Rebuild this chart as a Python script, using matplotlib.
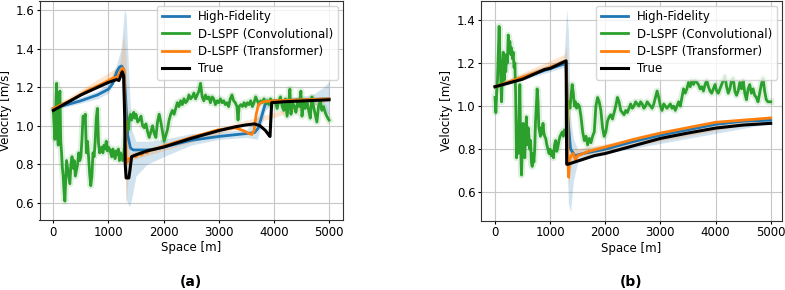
import numpy as np
import matplotlib
matplotlib.use("Agg")
import matplotlib.pyplot as plt

plt.rcParams['font.family'] = ['DejaVu Sans']

labels = ["High-Fidelity", "D-LSPF (Convolutional)", "D-LSPF (Transformer)", "True"]
colors = ["#1f77b4", "#2ca02c", "#ff7f0e", "black"]

# ---------------- panel (a) ----------------
true_a_x = [0, 500, 1000, 1100, 1150, 1190, 1250, 1275, 1295, 1305, 1320, 1370, 1390, 1420, 1500, 1700, 2000, 2500, 3000, 3300,
            3500, 3650, 3750, 3850, 3900, 3930, 3960, 4200, 4600, 5000]
true_a_y = [1.08, 1.16, 1.225, 1.235, 1.24, 1.235, 1.28, 1.26, 1.05, 0.80, 0.73, 0.73, 0.77, 0.84, 0.85, 0.87, 0.89, 0.935, 0.975,
            0.995, 1.005, 1.01, 1.00, 0.975, 0.955, 0.945, 1.12, 1.125, 1.13, 1.135]

hf_a_x = [0, 500, 800, 1000, 1080, 1150, 1200, 1240, 1280, 1310, 1350, 1400, 1450, 1550, 1700, 1850, 2000, 2500, 3000, 3500,
          3650, 3720, 3780, 3840, 3900, 4000, 4500, 5000]
hf_a_y = [1.09, 1.13, 1.16, 1.19, 1.22, 1.28, 1.305, 1.31, 1.29, 1.15, 0.95, 0.885, 0.875, 0.875, 0.875, 0.88, 0.89, 0.925,
          0.945, 0.96, 0.965, 0.99, 1.05, 1.11, 1.125, 1.13, 1.135, 1.14]
hf_a_band_x = [0, 800, 1000, 1150, 1230, 1290, 1320, 1380, 1420, 1500, 1700, 2000, 2500, 3000, 3500, 3700, 3850, 4000, 4700,
               4900, 5000]
hf_a_band_lo = [1.08, 1.14, 1.17, 1.25, 1.28, 1.00, 0.62, 0.58, 0.62, 0.74, 0.80, 0.84, 0.90, 0.93, 0.94, 0.93, 1.08, 1.12,
                1.12, 1.08, 1.06]
hf_a_band_hi = [1.10, 1.18, 1.22, 1.32, 1.40, 1.60, 1.58, 1.20, 0.98, 0.92, 0.92, 0.93, 0.96, 0.97, 0.98, 1.05, 1.15, 1.14,
                1.16, 1.20, 1.23]

tr_a_x = [0, 300, 600, 900, 1000, 1100, 1150, 1200, 1250, 1280, 1300, 1320, 1340, 1370, 1400, 1450, 1500, 1550, 1600, 1650,
          1700, 1750, 1800, 2000, 2500, 3000, 3300, 3450, 3550, 3600, 3640, 3680, 3720, 3800, 4000, 4500, 5000]
tr_a_y = [1.09, 1.13, 1.18, 1.22, 1.235, 1.25, 1.25, 1.27, 1.30, 1.29, 1.10, 0.83, 0.81, 0.83, 0.83, 0.845, 0.84, 0.855,
          0.85, 0.865, 0.86, 0.875, 0.875, 0.895, 0.94, 0.98, 0.99, 0.975, 0.96, 0.955, 0.975, 1.06, 1.11, 1.125, 1.13, 1.135,
          1.14]
tr_a_band_x = [0, 1200, 1280, 1320, 1360, 1400, 5000]
tr_a_band_lo = [1.08, 1.26, 1.25, 0.58, 0.75, 0.82, 1.13]
tr_a_band_hi = [1.10, 1.31, 1.48, 1.35, 0.90, 0.86, 1.15]

cv_a_x = [0, 15, 30, 45, 60, 75, 90, 105, 120, 135, 150, 165, 180, 195, 210, 225, 240, 260, 280, 300, 320, 340, 360, 380,
          400, 420, 440, 460, 480, 500, 520, 540, 560, 580, 600, 620, 640, 660, 680, 700, 720, 740, 760, 780, 800, 820, 840,
          860, 880, 900, 920, 940, 960, 980, 1000, 1020, 1040, 1060, 1080, 1100, 1120, 1140, 1160, 1180, 1200, 1220, 1240,
          1260, 1280, 1300, 1320, 1340, 1360, 1380, 1400, 1420, 1440, 1460, 1480, 1500, 1530, 1560, 1590, 1620, 1650, 1680,
          1710, 1740, 1770, 1800, 1830, 1860, 1890, 1920, 1950, 1980, 2010, 2040, 2070, 2100, 2130, 2160, 2190, 2220, 2250,
          2280, 2310, 2340, 2370, 2400, 2430, 2460, 2490, 2520, 2550, 2580, 2610, 2640, 2670, 2700, 2730, 2760, 2790, 2820,
          2850, 2880, 2910, 2940, 2970, 3000, 3030, 3060, 3090, 3120, 3150, 3180, 3210, 3240, 3270, 3300, 3330, 3350, 3370,
          3400, 3430, 3460, 3490, 3520, 3550, 3580, 3610, 3640, 3670, 3700, 3730, 3760, 3790, 3820, 3850, 3880, 3910, 3940,
          3970, 4000, 4030, 4060, 4090, 4120, 4150, 4180, 4210, 4240, 4270, 4290, 4310, 4340, 4370, 4400, 4430, 4460, 4490,
          4510, 4540, 4570, 4600, 4630, 4660, 4690, 4720, 4750, 4780, 4810, 4840, 4870, 4900, 4930, 4960, 5000]
cv_a_y = [1.08, 1.00, 0.93, 1.10, 1.22, 0.95, 0.90, 1.12, 1.18, 0.92, 0.86, 0.78, 0.74, 0.66, 0.61, 0.72, 0.82, 0.78, 0.74,
          0.70, 0.80, 0.84, 0.78, 0.82, 0.74, 0.77, 0.80, 0.86, 0.82, 0.84, 0.93, 1.05, 1.03, 1.06, 0.86, 0.92, 0.84, 0.75,
          0.69, 0.74, 0.86, 0.84, 0.92, 1.04, 1.09, 0.91, 0.86, 0.88, 0.89, 0.86, 0.90, 0.88, 0.92, 0.87, 0.89, 0.88, 0.86,
          0.84, 0.88, 0.86, 0.83, 0.87, 0.85, 0.88, 0.82, 0.86, 0.84, 0.82, 0.86, 0.93, 0.98, 1.02, 0.98, 1.04, 1.06, 1.03,
          1.05, 1.07, 1.04, 1.06, 1.02, 1.03, 1.05, 1.00, 0.99, 1.01, 0.97, 0.94, 0.97, 1.00, 0.96, 0.94, 1.02, 1.06, 1.02,
          0.97, 0.92, 0.95, 0.98, 1.03, 1.06, 1.08, 1.06, 1.09, 1.12, 1.10, 1.13, 1.11, 1.14, 1.12, 1.13, 1.16, 1.14, 1.15,
          1.17, 1.14, 1.16, 1.18, 1.22, 1.15, 1.13, 1.16, 1.14, 1.15, 1.12, 1.15, 1.14, 1.11, 1.13, 1.12, 1.14, 1.12, 1.13,
          1.11, 1.12, 1.10, 1.14, 1.16, 1.13, 1.12, 1.10, 1.03, 1.10, 1.11, 1.10, 1.12, 1.10, 1.12, 1.11, 1.13, 1.10, 1.12,
          1.15, 1.13, 1.11, 1.13, 1.12, 1.14, 1.12, 1.13, 1.11, 1.14, 1.12, 1.13, 1.12, 1.09, 1.13, 1.15, 1.10, 1.08, 1.14,
          1.05, 1.12, 1.19, 1.06, 1.12, 1.10, 1.07, 1.13, 1.10, 1.18, 1.05, 1.12, 1.09, 1.13, 1.08, 1.04, 1.15, 1.10, 1.06,
          1.02, 1.10, 1.13, 1.08, 1.10, 1.07, 1.05, 1.03]

# ---------------- panel (b) ----------------
true_b_x = [0, 500, 900, 1000, 1290, 1300, 1320, 1500, 1800, 2000, 2500, 3000, 3500, 4000, 4500, 5000]
true_b_y = [1.09, 1.125, 1.17, 1.175, 1.21, 0.73, 0.73, 0.745, 0.77, 0.78, 0.815, 0.85, 0.875, 0.898, 0.912, 0.92]

hf_b_x = [0, 1250, 1290, 1320, 1370, 1450, 1600, 2000, 2500, 3000, 3500, 4000, 4500, 5000]
hf_b_y = [1.09, 1.195, 1.19, 0.95, 0.80, 0.77, 0.78, 0.80, 0.835, 0.865, 0.89, 0.915, 0.93, 0.935]
hf_b_band_x = [0, 1250, 1300, 1330, 1370, 1420, 1500, 2000, 5000]
hf_b_band_lo = [1.08, 1.18, 0.90, 0.55, 0.51, 0.65, 0.74, 0.78, 0.92]
hf_b_band_hi = [1.10, 1.22, 1.45, 1.35, 0.95, 0.85, 0.80, 0.82, 0.95]

tr_b_x = [0, 1000, 1280, 1300, 1320, 1335, 1350, 1380, 1420, 1460, 1500, 1600, 1700, 2000, 2500, 3000, 3500, 4000, 4500,
          5000]
tr_b_y = [1.09, 1.18, 1.21, 1.15, 0.76, 0.67, 0.75, 0.77, 0.78, 0.75, 0.77, 0.78, 0.79, 0.81, 0.845, 0.875, 0.90, 0.925,
          0.935, 0.945]
tr_b_band_x = [0, 1260, 1300, 1330, 1370, 1420, 5000]
tr_b_band_lo = [1.08, 1.20, 1.05, 0.62, 0.70, 0.76, 0.935]
tr_b_band_hi = [1.10, 1.24, 1.28, 1.00, 0.82, 0.80, 0.955]

cv_b_x = [0, 15, 30, 45, 60, 75, 90, 105, 120, 135, 150, 165, 180, 195, 210, 225, 240, 255, 270, 285, 300, 315, 330, 345,
          360, 375, 390, 405, 420, 435, 450, 465, 480, 495, 510, 525, 540, 555, 570, 585, 600, 615, 630, 645, 660, 675, 690,
          705, 720, 735, 750, 765, 780, 795, 810, 825, 840, 855, 870, 885, 900, 920, 940, 960, 980, 1000, 1020, 1040, 1060,
          1080, 1100, 1120, 1140, 1160, 1180, 1200, 1220, 1240, 1260, 1280, 1300, 1320, 1340, 1360, 1380, 1400, 1420, 1440,
          1460, 1480, 1500, 1530, 1560, 1590, 1620, 1650, 1680, 1710, 1740, 1770, 1800, 1830, 1860, 1890, 1920, 1950, 1980,
          2010, 2040, 2070, 2100, 2130, 2160, 2190, 2220, 2250, 2280, 2310, 2340, 2370, 2400, 2430, 2460, 2490, 2520, 2550,
          2580, 2610, 2640, 2670, 2700, 2730, 2760, 2790, 2820, 2850, 2880, 2910, 2940, 2970, 3000, 3030, 3060, 3090, 3120,
          3150, 3180, 3210, 3240, 3270, 3300, 3330, 3360, 3390, 3420, 3450, 3480, 3510, 3540, 3570, 3600, 3630, 3660, 3690,
          3720, 3750, 3780, 3810, 3840, 3870, 3900, 3930, 3960, 3990, 4020, 4050, 4080, 4110, 4140, 4170, 4200, 4230, 4260,
          4290, 4320, 4350, 4380, 4410, 4440, 4470, 4500, 4530, 4560, 4590, 4620, 4650, 4680, 4710, 4740, 4770, 4800, 4830,
          4860, 4890, 4920, 4950, 5000]
cv_b_y = [1.04, 0.97, 1.06, 1.12, 1.25, 1.37, 1.22, 1.12, 1.02, 1.18, 1.25, 1.12, 1.20, 1.16, 1.24, 1.20, 1.33, 1.28, 1.30,
          1.24, 1.27, 1.22, 1.25, 1.18, 1.20, 1.05, 0.76, 0.85, 0.78, 0.94, 1.10, 0.82, 0.68, 0.80, 0.92, 0.84, 0.76, 0.88,
          0.95, 0.82, 0.90, 0.86, 0.80, 0.84, 0.74, 0.72, 0.78, 0.74, 0.80, 0.93, 1.00, 1.08, 1.02, 0.90, 0.88, 0.86, 0.90,
          0.87, 0.92, 0.88, 0.86, 0.85, 0.82, 0.80, 0.78, 0.80, 0.77, 0.79, 0.76, 0.82, 0.84, 0.79, 0.81, 0.84, 0.86, 0.87,
          0.88, 0.86, 0.89, 0.87, 0.90, 1.00, 1.02, 0.99, 1.05, 1.10, 1.06, 1.00, 1.02, 0.99, 1.01, 1.00, 0.95, 0.88, 0.84,
          0.86, 0.82, 0.85, 0.83, 0.86, 0.88, 1.00, 1.04, 1.02, 0.98, 0.90, 0.86, 0.88, 0.93, 0.95, 0.96, 0.94, 0.97, 1.00,
          1.04, 1.02, 0.98, 0.97, 0.96, 0.98, 0.97, 0.99, 1.01, 0.99, 1.00, 1.02, 1.01, 1.00, 1.02, 1.01, 0.99, 1.00, 1.02,
          1.01, 1.00, 0.99, 1.01, 1.04, 1.07, 1.04, 1.00, 0.98, 1.01, 1.00, 0.99, 1.00, 1.01, 0.99, 1.00, 0.98, 1.00, 1.02,
          1.00, 1.04, 1.08, 1.06, 1.08, 1.11, 1.09, 1.12, 1.10, 1.12, 1.11, 1.10, 1.08, 1.09, 1.07, 1.10, 1.12, 1.09, 1.07,
          1.06, 1.08, 1.10, 1.07, 1.06, 1.08, 1.10, 1.12, 1.14, 1.09, 1.06, 1.08, 1.12, 1.13, 1.07, 1.05, 1.07, 1.11, 1.08,
          1.12, 1.06, 1.03, 1.08, 1.10, 1.06, 1.08, 1.05, 1.04, 1.02, 1.06, 1.10, 1.13, 1.07, 1.03, 1.02, 1.02]

panels = [
    dict(tag="(a)", pos=[39.5, 342.8, 1.0, 220.0], xlim=(-250, 5250), ylim=(0.512, 1.647),
         yticks=[0.6, 0.8, 1.0, 1.2, 1.4, 1.6],
         hf=(hf_a_x, hf_a_y), hfb=(hf_a_band_x, hf_a_band_lo, hf_a_band_hi),
         cv=(cv_a_x, cv_a_y), tr=(tr_a_x, tr_a_y), trb=(tr_a_band_x, tr_a_band_lo, tr_a_band_hi),
         tru=(true_a_x, true_a_y)),
    dict(tag="(b)", pos=[481.0, 782.0, 1.0, 220.7], xlim=(-254, 5205), ylim=(0.468, 1.488),
         yticks=[0.6, 0.8, 1.0, 1.2, 1.4],
         hf=(hf_b_x, hf_b_y), hfb=(hf_b_band_x, hf_b_band_lo, hf_b_band_hi),
         cv=(cv_b_x, cv_b_y), tr=(tr_b_x, tr_b_y), trb=(tr_b_band_x, tr_b_band_lo, tr_b_band_hi),
         tru=(true_b_x, true_b_y)),
]

W, H = 785, 290
fig = plt.figure(figsize=(W / 100, H / 100), dpi=100)
FS = 8.5

for p in panels:
    l, r, t, b = p["pos"]
    ax = fig.add_axes([l / W, 1 - b / H, (r - l) / W, (b - t) / H])
    ax.set_axisbelow(True)
    ax.grid(True, color="#c8c8c8", lw=0.8)

    bx, blo, bhi = p["hfb"]
    ax.fill_between(bx, blo, bhi, color=colors[0], alpha=0.2, lw=0)
    tx, tlo, thi = p["trb"]
    ax.fill_between(tx, tlo, thi, color=colors[2], alpha=0.2, lw=0)

    ax.plot(*p["hf"], color=colors[0], lw=2, label=labels[0])
    ax.plot(*p["cv"], color=colors[1], lw=5, alpha=0.15)
    ax.plot(*p["cv"], color=colors[1], lw=2, label=labels[1])
    ax.plot(*p["tr"], color=colors[2], lw=2, label=labels[2])
    ax.plot(*p["tru"], color=colors[3], lw=2.2, label=labels[3])

    ax.set_xlim(*p["xlim"])
    ax.set_ylim(*p["ylim"])
    ax.set_xticks([0, 1000, 2000, 3000, 4000, 5000])
    ax.set_yticks(p["yticks"])
    ax.tick_params(labelsize=FS, length=2.5, width=0.8, pad=1.5)
    ax.set_xlabel("Space [m]", fontsize=FS, labelpad=2)
    ax.set_ylabel("Velocity [m/s]", fontsize=FS, labelpad=2.5)
    for s in ax.spines.values():
        s.set_color("#333333")
        s.set_linewidth(0.8)
    ax.legend(loc="upper right", fontsize=FS, handlelength=2.3, borderaxespad=0.4,
              labelspacing=0.35, framealpha=0.8)
    fig.text((l + r) / 2 / W, 1 - 282 / H, p["tag"], fontsize=10, fontweight="bold",
             ha="center", va="center")

fig.savefig("out.png", dpi=100)
